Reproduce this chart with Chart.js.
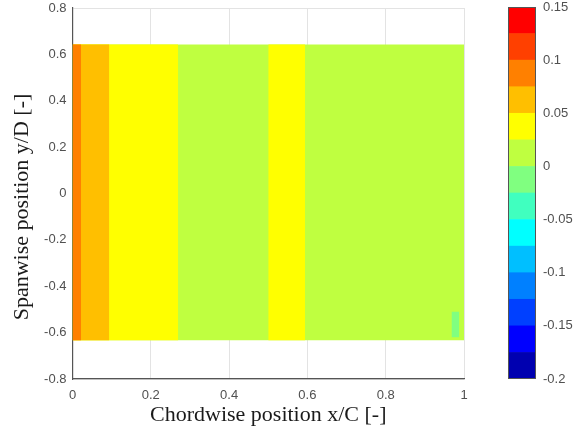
<!DOCTYPE html>
<html>
<head>
<meta charset="utf-8">
<script src="https://cdn.jsdelivr.net/npm/chart.js@4/dist/chart.umd.min.js"></script>
<style>
  html, body { margin: 0; padding: 0; background: #fff; }
  #wrap { position: relative; width: 578px; height: 435px; }
  #main { position: absolute; left: 0; top: 0; }
  #cbar { position: absolute; left: 490px; top: 0; }
</style>
</head>
<body>
<div id="wrap">
  <canvas id="main" width="490" height="435"></canvas>
  <canvas id="cbar" width="88" height="435"></canvas>
</div>
<script>
// contour levels of the colour bar (jet, 14 levels)
const levels = [-0.2, -0.175, -0.15, -0.125, -0.1, -0.075, -0.05, -0.025, 0, 0.025, 0.05, 0.075, 0.1, 0.125, 0.15];
const levelColors = ['#0000b0', '#0000ff', '#0040ff', '#0080ff', '#00bfff', '#00ffff', '#40ffbf', '#80ff80',
                     '#bfff40', '#ffff00', '#ffbf00', '#ff8000', '#ff4000', '#ff0000'];
const cbarTicks = [-0.2, -0.15, -0.1, -0.05, 0, 0.05, 0.1, 0.15];

// filled contour regions (nested, lowest level first): chordwise start/end, spanwise bottom/top, value
const regionX0  = [0.0, 0.0, 0.50, 0.0, 0.0, 0.968];
const regionX1  = [1.0, 0.27, 0.594, 0.094, 0.022, 0.988];
const regionY0  = [-0.633, -0.633, -0.633, -0.633, -0.633, -0.62];
const regionY1  = [0.643, 0.643, 0.643, 0.643, 0.643, -0.51];
const regionVal = [0.01, 0.04, 0.04, 0.06, 0.08, -0.01];

const xTicks = [0, 0.2, 0.4, 0.6, 0.8, 1];
const yTicks = [-0.8, -0.6, -0.4, -0.2, 0, 0.2, 0.4, 0.6, 0.8];

function colorFor(v) {
  for (let i = 0; i < levelColors.length; i++) {
    if (v >= levels[i] && v < levels[i + 1]) return levelColors[i];
  }
  return levelColors[levelColors.length - 1];
}

function fmt(v) {
  return String(Math.round(v * 1000) / 1000);
}

const tickFont = { family: 'Liberation Sans', size: 13 };
const tickColor = '#505050';
const titleFont = { family: 'Liberation Serif', size: 22 };

// the filler paints the last dataset first, so put the top region first
const datasets = [];
for (let i = regionVal.length - 1; i >= 0; i--) {
  const c = colorFor(regionVal[i]);
  datasets.push({
    showLine: true,
    data: [{ x: regionX0[i], y: regionY1[i] }, { x: regionX1[i], y: regionY1[i] }],
    fill: { value: regionY0[i] },
    backgroundColor: c,
    borderColor: c,
    borderWidth: 0,
    pointRadius: 0
  });
}

// y label drawn by hand so it can sit where the original has it
const yTitlePlugin = {
  id: 'yTitle',
  afterDraw(chart) {
    const ctx = chart.ctx;
    ctx.save();
    ctx.translate(22, 207);
    ctx.rotate(-Math.PI / 2);
    ctx.font = titleFont.size + 'px ' + titleFont.family;
    ctx.fillStyle = '#1a1a1a';
    ctx.textAlign = 'center';
    ctx.textBaseline = 'middle';
    ctx.fillText('Spanwise position y/D [-]', 0, 0);
    ctx.restore();
  }
};

new Chart(document.getElementById('main'), {
  type: 'scatter',
  data: { datasets: datasets },
  options: {
    responsive: false,
    animation: false,
    layout: { padding: { top: 8, right: 26, left: 0, bottom: 0 } },
    plugins: { legend: { display: false }, tooltip: { enabled: false } },
    scales: {
      x: {
        type: 'linear', min: 0, max: 1,
        afterBuildTicks: s => { s.ticks = xTicks.map(v => ({ value: v })); },
        afterFit: s => { s.height = 56; },
        grid: { color: '#e3e3e3', drawTicks: false },
        border: { color: '#555555', width: 1.2 },
        ticks: { font: tickFont, color: tickColor, padding: 9, maxRotation: 0, callback: fmt },
        title: { display: true, text: 'Chordwise position x/C [-]', font: titleFont, color: '#1a1a1a', padding: { top: 0, bottom: 7 } }
      },
      y: {
        type: 'linear', min: -0.8, max: 0.8,
        afterBuildTicks: s => { s.ticks = yTicks.map(v => ({ value: v })); },
        afterFit: s => { s.width = 72.5; s.paddingTop = 0; s.paddingBottom = 0; },
        grid: { color: '#e3e3e3', drawTicks: false },
        border: { color: '#555555', width: 1.2 },
        ticks: { font: tickFont, color: tickColor, padding: 6, callback: fmt }
      }
    }
  },
  plugins: [yTitlePlugin]
});

// colour bar
const boxPlugin = {
  id: 'box',
  afterDatasetsDraw(chart) {
    const a = chart.chartArea, ctx = chart.ctx;
    ctx.save();
    ctx.strokeStyle = '#555555';
    ctx.lineWidth = 1;
    ctx.strokeRect(a.left + 0.5, a.top + 0.5, a.right - a.left - 1, a.bottom - a.top - 1);
    ctx.restore();
  }
};

new Chart(document.getElementById('cbar'), {
  type: 'bar',
  data: {
    labels: [''],
    datasets: levelColors.map((c, i) => ({
      data: [[levels[i], levels[i + 1]]],
      backgroundColor: c,
      borderWidth: 0,
      grouped: false,
      barPercentage: 1,
      categoryPercentage: 1
    }))
  },
  options: {
    responsive: false,
    animation: false,
    layout: { padding: { top: 7, left: 18, right: 0, bottom: 56 } },
    plugins: { legend: { display: false }, tooltip: { enabled: false } },
    scales: {
      x: { display: false },
      y: {
        position: 'right', min: -0.2, max: 0.15,
        afterBuildTicks: s => { s.ticks = cbarTicks.map(v => ({ value: v })); },
        afterFit: s => { s.width = 42; s.paddingTop = 0; s.paddingBottom = 0; },
        grid: { display: false, drawTicks: false },
        border: { display: false },
        ticks: { font: tickFont, color: tickColor, padding: 7, callback: fmt }
      }
    }
  },
  plugins: [boxPlugin]
});
</script>
</body>
</html>
